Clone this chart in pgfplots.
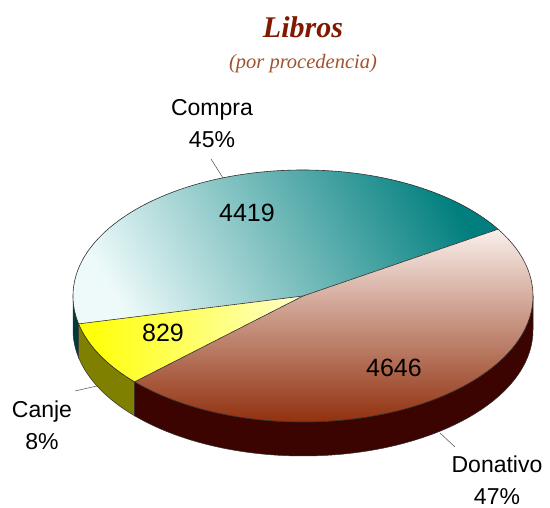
\documentclass[border=0pt]{standalone}
\usepackage{pgfplots}
\usepackage{pgfplotstable}
\pgfplotsset{compat=1.18}
\usepackage{fontspec}
\setmainfont{Liberation Sans}
\newfontfamily\titlefont{Liberation Serif}
\definecolor{titlecol}{HTML}{7F1A00}
\definecolor{subcol}{HTML}{A0522D}
\definecolor{tealdark}{HTML}{007F7E}
\definecolor{tealmid}{HTML}{38AAA9}
\definecolor{tealpale}{HTML}{EEFAFA}
\definecolor{donTop}{HTML}{FAF0EC}
\definecolor{donBot}{HTML}{8A2400}
\definecolor{donSide}{HTML}{3C0400}
\definecolor{canSide}{HTML}{808000}
\definecolor{comSide}{HTML}{003A3A}
\definecolor{canPale}{HTML}{FFFFCC}
\definecolor{edge}{HTML}{303030}

\pgfplotstableread{
label value
Compra 4419
Canje 829
Donativo 4646
}\datatable

\begin{document}
\begin{tikzpicture}
\useasboundingbox (0,0) rectangle (550pt,508pt);
\pgfplotstablegetelem{0}{value}\of\datatable \let\vA\pgfplotsretval
\pgfplotstablegetelem{1}{value}\of\datatable \let\vB\pgfplotsretval
\pgfplotstablegetelem{2}{value}\of\datatable \let\vC\pgfplotsretval
\pgfmathsetmacro\tot{\vA+\vB+\vC}
\pgfmathsetmacro\aA{32}
\pgfmathsetmacro\aB{\aA+\vA/\tot*360}
\pgfmathsetmacro\aC{\aB+\vB/\tot*360}
\pgfmathsetmacro\aD{\aA+360}
\begin{axis}[
  at={(0,0)}, anchor=south west,
  scale only axis, width=550pt, height=508pt,
  xmin=0, xmax=550, ymin=0, ymax=508,
  hide axis, clip=false, enlargelimits=false,
]
% side walls
\fill[comSide, draw=edge, line width=0.5pt] (303,212) ++(180:230pt and 126pt) arc[start angle=180, end angle=\aB, x radius=230pt, y radius=126pt] -- ++(0pt,-34pt) arc[start angle=\aB, end angle=180, x radius=230pt, y radius=126pt] -- cycle;
\fill[canSide, draw=edge, line width=0.5pt] (303,212) ++(\aB:230pt and 126pt) arc[start angle=\aB, end angle=\aC, x radius=230pt, y radius=126pt] -- ++(0pt,-34pt) arc[start angle=\aC, end angle=\aB, x radius=230pt, y radius=126pt] -- cycle;
\fill[donSide, draw=edge, line width=0.5pt] (303,212) ++(\aC:230pt and 126pt) arc[start angle=\aC, end angle=360, x radius=230pt, y radius=126pt] -- ++(0pt,-34pt) arc[start angle=360, end angle=\aC, x radius=230pt, y radius=126pt] -- cycle;
% top faces
\shade[bottom color=tealpale, middle color=tealmid, top color=tealdark, shading angle=-60] (303,212) -- ++(\aA:230pt and 126pt) arc[start angle=\aA, end angle=\aB, x radius=230pt, y radius=126pt] -- cycle;
\shade[left color=yellow, right color=canPale] (303,212) -- ++(\aB:230pt and 126pt) arc[start angle=\aB, end angle=\aC, x radius=230pt, y radius=126pt] -- cycle;
\shade[top color=donTop, bottom color=donBot] (303,212) -- ++(\aC:230pt and 126pt) arc[start angle=\aC, end angle=\aD, x radius=230pt, y radius=126pt] -- cycle;
% outlines
\draw[edge, line width=0.6pt] (303,212) -- ++(\aA:230pt and 126pt);
\draw[edge, line width=0.6pt] (303,212) -- ++(\aB:230pt and 126pt);
\draw[edge, line width=0.6pt] (303,212) -- ++(\aC:230pt and 126pt);
\draw[edge, line width=0.6pt] (303,212) ++(0:230pt and 126pt) arc[start angle=0, end angle=360, x radius=230pt, y radius=126pt];
% value labels
\node[font=\fontsize{25}{28}\selectfont] at (247,295) {4419};
\node[font=\fontsize{25}{28}\selectfont] at (163,175) {829};
\node[font=\fontsize{25}{28}\selectfont] at (394,140) {4646};
% leader lines
\draw[black!70, line width=0.5pt] (223,330) -- (211,349);
\draw[black!70, line width=0.5pt] (97,122) -- (75,117);
\draw[black!70, line width=0.5pt] (440,75) -- (455,61);
% category labels
\node[font=\fontsize{23}{32}\selectfont, align=center] at (212,384) {Compra\\45\%};
\node[font=\fontsize{23}{32}\selectfont, align=center] at (42,83) {Canje\\8\%};
\node[font=\fontsize{23}{32}\selectfont, align=center] at (497,28) {Donativo\\47\%};
% titles
\node[font=\titlefont\bfseries\itshape\fontsize{30}{34}\selectfont, text=titlecol] at (303,481) {Libros};
\node[font=\titlefont\itshape\fontsize{20.5}{24}\selectfont, text=subcol] at (303,444) {(por procedencia)};
\end{axis}
\end{tikzpicture}
\end{document}
